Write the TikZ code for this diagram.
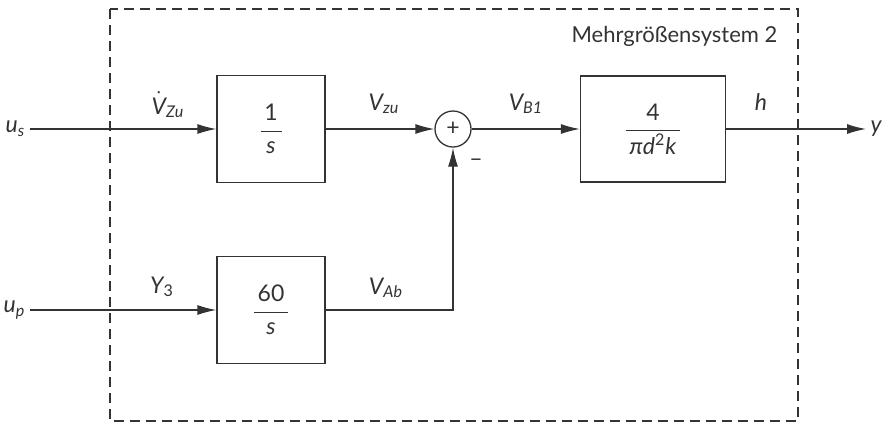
\documentclass[tikz,border=0pt]{standalone}
\usepackage{amsmath}
\usepackage{fontspec}
\setmainfont{Lato}
\usetikzlibrary{arrows.meta}
\definecolor{ink}{HTML}{333333}

\begin{document}
\begin{tikzpicture}[x=.5pt,y=-.5pt,>={Latex[length=9.5pt,width=5pt]},line width=.65pt,color=ink,
  font=\fontsize{11.5}{14}\selectfont\itshape,
  block/.style={draw,minimum width=54pt,minimum height=53.5pt,inner sep=0pt},
  sumnode/.style={draw,circle,minimum size=18pt,inner sep=0pt},
  sig/.style={anchor=base,inner sep=0pt},
  frame/.style={dash pattern=on 5pt off 3pt}]
  \useasboundingbox (0,0) rectangle (893,424);
  \draw[frame] (110,9) rectangle (798,421);
  \node[anchor=base east,inner sep=0pt,font=\fontsize{11}{14}\selectfont] (title) at (778,42) {Mehrgrößensystem 2};
  % Blocks and summing point
  \node[block] (int1) at (271,129) {$\dfrac{\text{\upshape\,1\,}}{\text{\,s\,}}$};
  \node[block] (int2) at (271,310) {$\dfrac{\text{\upshape\,60\,}}{\text{\,s\,}}$};
  \node[sumnode] (sum) at (453,129) {\upshape +};
  \node[block,minimum width=72.5pt,minimum height=53pt] (plant) at (653,129) {$\dfrac{\text{\upshape 4}}{\text{\,πd\textsuperscript{\upshape 2}k\,}}$};
  % Inputs and output
  \node[anchor=east,inner sep=2pt] (us) at (30,129) {u\textsubscript{s}};
  \node[anchor=east,inner sep=2pt] (up) at (30,310) {u\textsubscript{p}};
  \node[anchor=west,inner sep=2pt] (y) at (866,129) {y};
  \draw[->] (us.east |- int1) -- (int1.west);
  \draw[->] (up.east |- int2) -- (int2.west);
  \draw[->] (int1) -- (sum);
  \draw[->] (int2.east) -| (sum.south);
  \draw[->] (sum) -- (plant);
  \draw[->] (plant) -- (y.west |- plant);
  % Signal names
  \node[sig] (vzudot) at (168,114) {$\dot{\text{V}}$\textsubscript{Zu}};
  \node[sig] (vzu) at (384,110) {V\textsubscript{zu}};
  \node[sig] (vb1) at (526,110) {V\textsubscript{B1}};
  \node[sig] (h) at (761,110) {h};
  \node[sig] (y3) at (162,293) {Y\textsubscript{\upshape 3}};
  \node[sig] (vab) at (386,294) {V\textsubscript{Ab}};
  \node[sig,font=\fontsize{11.5}{14}\selectfont] (minus) at (476,166) {–};
\end{tikzpicture}
\end{document}
